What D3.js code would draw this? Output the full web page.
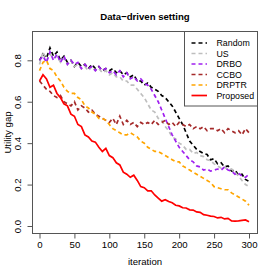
<!DOCTYPE html>
<html>
<head>
<meta charset="utf-8">
<script src="https://cdn.jsdelivr.net/npm/d3@7"></script>
<style>
  body { margin: 0; background: #fff; }
  text { font-family: "Liberation Sans", Arial, Helvetica, sans-serif; }
</style>
</head>
<body>
<div id="chart"></div>
<script>
// iterations 0,5,...,300
var iterations = d3.range(0, 301, 5);

var seriesNames = ["Random", "US", "DRBO", "CCBO", "DRPTR", "Proposed"];
var seriesColors = ["#000000", "#bebebe", "#a020f0", "#a52a2a", "#ffa500", "#ff0000"];
var seriesDashed = [true, true, true, true, true, false];

var randomVals = [0.80, 0.83, 0.81, 0.86, 0.82, 0.84, 0.80, 0.82, 0.79, 0.80, 0.77, 0.79, 0.77, 0.78, 0.76, 0.78, 0.76, 0.77, 0.75, 0.76,
  0.75, 0.76, 0.74, 0.75, 0.73, 0.74, 0.72, 0.73, 0.70, 0.70, 0.68, 0.69, 0.67, 0.66, 0.65, 0.63, 0.62, 0.60, 0.58, 0.55,
  0.52, 0.49, 0.45, 0.41, 0.39, 0.37, 0.36, 0.35, 0.345, 0.32, 0.325, 0.30, 0.305, 0.285, 0.29, 0.265, 0.27, 0.245, 0.25, 0.225, 0.215];
var usVals = [0.78, 0.84, 0.80, 0.83, 0.81, 0.82, 0.79, 0.81, 0.78, 0.80, 0.77, 0.78, 0.76, 0.77, 0.75, 0.77, 0.75, 0.76, 0.74, 0.75,
  0.73, 0.74, 0.72, 0.72, 0.70, 0.70, 0.68, 0.68, 0.66, 0.64, 0.62, 0.59, 0.56, 0.55, 0.52, 0.51, 0.48, 0.46, 0.43, 0.42,
  0.40, 0.39, 0.37, 0.37, 0.35, 0.355, 0.34, 0.335, 0.32, 0.315, 0.30, 0.29, 0.28, 0.285, 0.27, 0.275, 0.26, 0.24, 0.22, 0.20, 0.19];
var drboVals = [0.80, 0.82, 0.79, 0.84, 0.80, 0.83, 0.79, 0.82, 0.78, 0.80, 0.78, 0.79, 0.76, 0.78, 0.76, 0.77, 0.75, 0.77, 0.75, 0.76,
  0.74, 0.75, 0.73, 0.75, 0.72, 0.74, 0.71, 0.72, 0.70, 0.71, 0.69, 0.68, 0.66, 0.63, 0.60, 0.56, 0.52, 0.48, 0.44, 0.41,
  0.38, 0.36, 0.34, 0.32, 0.31, 0.29, 0.285, 0.27, 0.275, 0.265, 0.27, 0.275, 0.27, 0.285, 0.27, 0.265, 0.25, 0.255, 0.24, 0.235, 0.25];
var ccboVals = [0.70, 0.68, 0.66, 0.65, 0.63, 0.62, 0.63, 0.60, 0.59, 0.58, 0.60, 0.56, 0.58, 0.57, 0.55, 0.56, 0.54, 0.53, 0.52, 0.51,
  0.50, 0.52, 0.49, 0.53, 0.49, 0.51, 0.49, 0.50, 0.48, 0.50, 0.49, 0.50, 0.49, 0.51, 0.49, 0.50, 0.51, 0.49, 0.50, 0.48,
  0.50, 0.49, 0.48, 0.49, 0.47, 0.48, 0.47, 0.48, 0.46, 0.47, 0.47, 0.46, 0.47, 0.45, 0.47, 0.46, 0.45, 0.46, 0.44, 0.47, 0.45];
var drptrVals = [0.75, 0.79, 0.80, 0.76, 0.75, 0.72, 0.70, 0.67, 0.65, 0.64, 0.64, 0.62, 0.61, 0.58, 0.57, 0.55, 0.54, 0.52, 0.52, 0.51,
  0.49, 0.47, 0.46, 0.45, 0.44, 0.44, 0.45, 0.44, 0.43, 0.41, 0.40, 0.38, 0.37, 0.36, 0.36, 0.35, 0.34, 0.33, 0.32, 0.31,
  0.31, 0.29, 0.28, 0.27, 0.26, 0.25, 0.24, 0.23, 0.22, 0.21, 0.19, 0.185, 0.18, 0.175, 0.175, 0.16, 0.15, 0.14, 0.13, 0.12, 0.10];
var proposedVals = [0.70, 0.73, 0.71, 0.67, 0.68, 0.64, 0.62, 0.59, 0.58, 0.54, 0.53, 0.49, 0.48, 0.44, 0.43, 0.41, 0.405, 0.38, 0.36, 0.375,
  0.34, 0.33, 0.305, 0.295, 0.26, 0.25, 0.235, 0.245, 0.22, 0.19, 0.185, 0.17, 0.17, 0.15, 0.135, 0.12, 0.127, 0.118, 0.112, 0.10,
  0.097, 0.088, 0.087, 0.078, 0.077, 0.068, 0.066, 0.055, 0.052, 0.048, 0.046, 0.039, 0.042, 0.034, 0.037, 0.025, 0.024, 0.025, 0.027, 0.029, 0.02];

var allVals = [randomVals, usVals, drboVals, ccboVals, drptrVals, proposedVals];

var xTicks = [0, 50, 100, 150, 200, 250, 300];
var yTicks = [0.0, 0.2, 0.4, 0.6, 0.8];

var W = 274, H = 274;
var box = {left: 32.5, right: 257.5, top: 31.5, bottom: 233.5};

var svg = d3.select("#chart").append("svg")
    .attr("width", W)
    .attr("height", H);

var x = d3.scaleLinear().domain([0, 300]).range([39.5, 249]);
var y = d3.scaleLinear().domain([0, 0.8]).range([226, 60.3]);

// title
svg.append("text")
    .attr("x", (box.left + box.right) / 2)
    .attr("y", 19.5)
    .attr("text-anchor", "middle")
    .style("font-size", "9.6px")
    .style("font-weight", "bold")
    .text("Data\u2212driven setting");

// lines
var clip = svg.append("defs").append("clipPath").attr("id", "clip")
    .append("rect")
    .attr("x", box.left).attr("y", box.top)
    .attr("width", box.right - box.left).attr("height", box.bottom - box.top);

var line = d3.line()
    .x(function (d, i) { return x(iterations[i]); })
    .y(function (d) { return y(d); });

var g = svg.append("g").attr("clip-path", "url(#clip)");
allVals.forEach(function (vals, k) {
    g.append("path")
        .datum(vals)
        .attr("d", line)
        .attr("fill", "none")
        .attr("stroke", seriesColors[k])
        .attr("stroke-width", 1.7)
        .attr("stroke-dasharray", seriesDashed[k] ? "4,3" : null);
});

// frame
svg.append("rect")
    .attr("x", box.left).attr("y", box.top)
    .attr("width", box.right - box.left).attr("height", box.bottom - box.top)
    .attr("fill", "none")
    .attr("stroke", "#555")
    .attr("stroke-width", 1);

// x axis
var xAxis = svg.append("g")
    .attr("transform", "translate(0," + box.bottom + ")")
    .call(d3.axisBottom(x).tickValues(xTicks).tickSize(5).tickPadding(3).tickFormat(d3.format("d")));
xAxis.select(".domain").attr("d", "M" + x(0) + ",0H" + x(300)).attr("stroke", "#555");
xAxis.selectAll(".tick line").attr("stroke", "#555");
xAxis.selectAll("text").style("font-size", "9.6px").attr("fill", "#000")
    .style("font-family", "'Liberation Sans', Arial, sans-serif");

// y axis
var yAxis = svg.append("g")
    .attr("transform", "translate(" + box.left + ",0)")
    .call(d3.axisLeft(y).tickValues(yTicks).tickSize(5).tickFormat(d3.format(".1f")));
yAxis.select(".domain").attr("d", "M0," + y(0) + "V" + y(0.8)).attr("stroke", "#555");
yAxis.selectAll(".tick line").attr("stroke", "#555");
yAxis.selectAll(".tick text")
    .attr("x", 0).attr("dy", 0)
    .attr("text-anchor", "middle")
    .attr("transform", "translate(-12,0) rotate(-90)")
    .style("font-size", "9.6px").attr("fill", "#000")
    .style("font-family", "'Liberation Sans', Arial, sans-serif");

// axis labels
svg.append("text")
    .attr("x", (box.left + box.right) / 2)
    .attr("y", 264.5)
    .attr("text-anchor", "middle")
    .style("font-size", "9.6px")
    .text("iteration");

svg.append("text")
    .attr("transform", "translate(11," + ((box.top + box.bottom) / 2) + ") rotate(-90)")
    .attr("text-anchor", "middle")
    .style("font-size", "9.6px")
    .text("Utility gap");

// legend
var lg = {left: 184.5, top: 31.5, right: 257.5, bottom: 106, row: 10.5};
svg.append("rect")
    .attr("x", lg.left).attr("y", lg.top)
    .attr("width", lg.right - lg.left).attr("height", lg.bottom - lg.top)
    .attr("fill", "#fff")
    .attr("stroke", "#555")
    .attr("stroke-width", 1);

seriesNames.forEach(function (name, k) {
    var yy = 43 + k * lg.row;
    svg.append("line")
        .attr("x1", 191.5).attr("x2", 207)
        .attr("y1", yy).attr("y2", yy)
        .attr("stroke", seriesColors[k])
        .attr("stroke-width", 1.7)
        .attr("stroke-dasharray", seriesDashed[k] ? "4,3" : null);
    svg.append("text")
        .attr("x", 216.5)
        .attr("y", yy + 3.2)
        .style("font-size", "8.8px")
        .text(name);
});
</script>
</body>
</html>
